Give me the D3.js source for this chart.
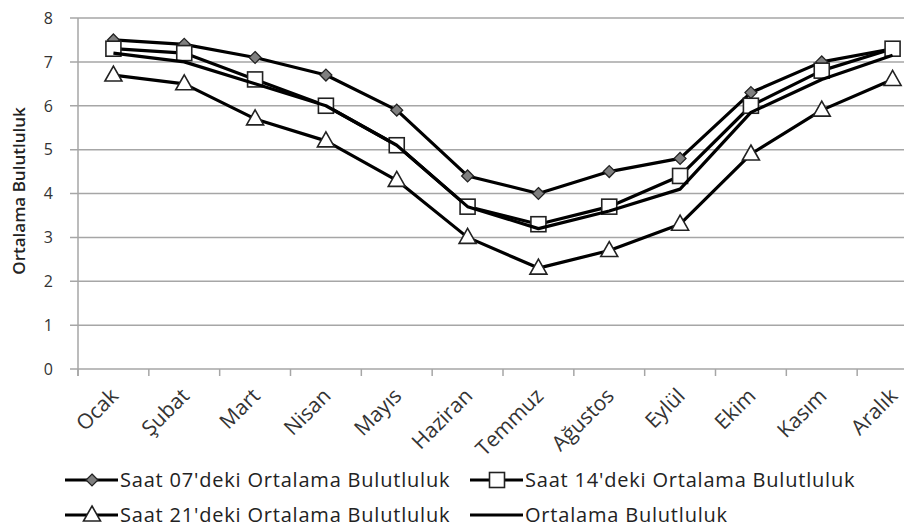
<!DOCTYPE html>
<meta charset="utf-8">
<html>
<head>
<script src="https://d3js.org/d3.v7.min.js" charset="utf-8"></script>
<style>
body { margin: 0; background: #fff; }
.grid line { stroke: #a6a6a6; stroke-width: 1.5; }
.axis text { font-family: "Open Sans", sans-serif; fill: #333; }
.legend text { font-family: "Open Sans", sans-serif; font-size: 20px; letter-spacing: 0.8px; fill: #222; }
</style>
</head>
<body>
<svg width="904" height="528"></svg>
<script type="text/javascript">
// data
var months = ["Ocak", "Şubat", "Mart", "Nisan", "Mayıs", "Haziran", "Temmuz", "Ağustos", "Eylül", "Ekim", "Kasım", "Aralık"];
var saat07 = [7.5, 7.4, 7.1, 6.7, 5.9, 4.4, 4.0, 4.5, 4.8, 6.3, 7.0, 7.3];
var saat14 = [7.3, 7.2, 6.6, 6.0, 5.1, 3.7, 3.3, 3.7, 4.4, 6.0, 6.8, 7.3];
var saat21 = [6.7, 6.5, 5.7, 5.2, 4.3, 3.0, 2.3, 2.7, 3.3, 4.9, 5.9, 6.6];
var ortalama = [7.2, 7.0, 6.5, 6.0, 5.1, 3.7, 3.2, 3.6, 4.1, 5.85, 6.6, 7.15];
var yTicks = [0, 1, 2, 3, 4, 5, 6, 7, 8];

var series = [
  {name: "Saat 07'deki Ortalama Bulutluluk", values: saat07, marker: "diamond"},
  {name: "Saat 14'deki Ortalama Bulutluluk", values: saat14, marker: "square"},
  {name: "Saat 21'deki Ortalama Bulutluluk", values: saat21, marker: "triangle"},
  {name: "Ortalama Bulutluluk", values: ortalama, marker: "none"}
];

var svg = d3.select("svg");
var marginLeft = 78, marginTop = 18, plotW = 850, plotH = 351;

var x = d3.scaleBand().domain(months).range([marginLeft, marginLeft + plotW]);
var y = d3.scaleLinear().domain([0, 8]).range([marginTop + plotH, marginTop]);

// gridlines
svg.append("g").attr("class", "grid")
  .selectAll("line").data(yTicks).enter().append("line")
    .attr("x1", marginLeft - 8).attr("x2", marginLeft + plotW)
    .attr("y1", function(d) { return y(d); }).attr("y2", function(d) { return y(d); });

// y axis line
svg.append("line")
  .attr("x1", marginLeft).attr("x2", marginLeft).attr("y1", y(8)).attr("y2", y(0) + 7)
  .attr("stroke", "#a6a6a6").attr("stroke-width", 1.5);

// x ticks
svg.append("g").selectAll("line").data(d3.range(months.length + 1)).enter().append("line")
  .attr("x1", function(i) { return marginLeft + i * x.bandwidth(); })
  .attr("x2", function(i) { return marginLeft + i * x.bandwidth(); })
  .attr("y1", y(0)).attr("y2", y(0) + 7)
  .attr("stroke", "#a6a6a6").attr("stroke-width", 1.5);

// y tick labels
svg.append("g").attr("class", "axis")
  .selectAll("text").data(yTicks).enter().append("text")
    .attr("x", 53).attr("y", function(d) { return y(d); })
    .attr("dy", "0.36em").attr("text-anchor", "end")
    .style("font-size", "16px")
    .text(function(d) { return d; });

// x tick labels
svg.append("g").attr("class", "axis")
  .selectAll("text").data(months).enter().append("text")
    .attr("transform", function(d) {
      return "translate(" + (x(d) + x.bandwidth() / 2 + 1) + "," + (y(0) + 23) + ") rotate(-45)";
    })
    .attr("text-anchor", "end").attr("dy", "0.35em")
    .style("font-size", "21px")
    .text(function(d) { return d; });

// y axis title
svg.append("text")
  .attr("transform", "translate(25," + 191 + ") rotate(-90)")
  .attr("text-anchor", "middle")
  .style("font-family", "'Open Sans', sans-serif")
  .style("font-weight", "600")
  .style("font-size", "17px")
  .style("fill", "#222")
  .text("Ortalama Bulutluluk");

var line = d3.line()
  .x(function(d, i) { return x(months[i]) + x.bandwidth() / 2; })
  .y(function(d) { return y(d); });

function drawMarker(g, type, cx, cy) {
  if (type === "diamond") {
    g.append("path").attr("d", d3.symbol().type(d3.symbolDiamond2).size(90)())
      .attr("transform", "translate(" + cx + "," + cy + ")")
      .attr("fill", "#7f7f7f").attr("stroke", "#222").attr("stroke-width", 1.3);
  } else if (type === "square") {
    g.append("rect").attr("x", cx - 7.5).attr("y", cy - 7.5).attr("width", 15).attr("height", 15)
      .attr("fill", "#fff").attr("stroke", "#222").attr("stroke-width", 1.6);
  } else if (type === "triangle") {
    g.append("path").attr("d", "M" + cx + "," + (cy - 9) + "L" + (cx + 8.5) + "," + (cy + 6) + "L" + (cx - 8.5) + "," + (cy + 6) + "Z")
      .attr("fill", "#fff").attr("stroke", "#222").attr("stroke-width", 1.6);
  }
}

series.forEach(function(s) {
  var g = svg.append("g");
  g.append("path").datum(s.values).attr("d", line)
    .attr("fill", "none").attr("stroke", "#000").attr("stroke-width", 3.2)
    .attr("stroke-linejoin", "round");
  s.values.forEach(function(v, i) {
    drawMarker(g, s.marker, x(months[i]) + x.bandwidth() / 2, y(v));
  });
});

// legend
var legendPos = [[65, 480], [470, 480], [65, 515], [470, 515]];
var legend = svg.append("g").attr("class", "legend");
series.forEach(function(s, i) {
  var lx = legendPos[i][0], ly = legendPos[i][1];
  var g = legend.append("g");
  var x1 = lx + 53;
  g.append("line").attr("x1", lx).attr("x2", x1).attr("y1", ly).attr("y2", ly)
    .attr("stroke", "#000").attr("stroke-width", 3.2);
  drawMarker(g, s.marker, lx + 27, ly);
  g.append("text").attr("x", x1 + 2).attr("y", ly).attr("dy", "0.36em").text(s.name);
});
</script>
</body>
</html>
